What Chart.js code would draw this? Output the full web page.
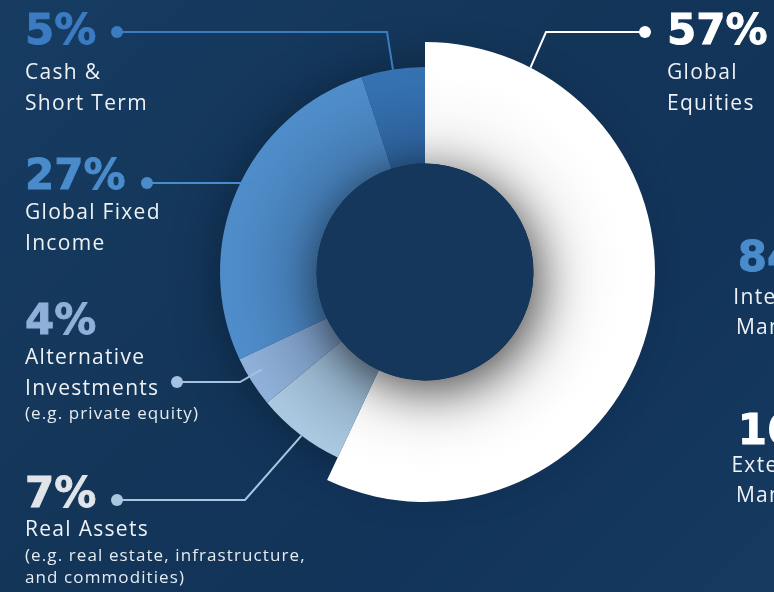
<!DOCTYPE html>
<html>
<head>
<meta charset="utf-8">
<script src="https://cdn.jsdelivr.net/npm/chart.js@4/dist/chart.umd.min.js"></script>
<style>
  html, body { margin: 0; padding: 0; overflow: hidden; }
  body { background: #14375a; }
  .wrap {
    position: relative; width: 774px; height: 592px; overflow: hidden;
    background: linear-gradient(135deg, #173c62 0%, #133558 45%, #12345a 70%, #163a60 100%);
  }
  .wrap canvas { position: absolute; left: 0; top: 0; }
  .txt { position: absolute; white-space: nowrap; }
</style>
</head>
<body>
<div class="wrap" id="wrap">
  <canvas class="grafico" width="774" height="592"></canvas>
</div>
<script>
const canvas = document.querySelector('.grafico');
const wrap = document.getElementById('wrap');

// data, clockwise from 12 o'clock
const categories = ['Global Equities', 'Real Assets', 'Alternative Investments', 'Global Fixed Income', 'Cash & Short Term'];
const values = [57, 7, 4, 27, 5];
const labelLines = [['Global', 'Equities'], ['Real Assets'], ['Alternative', 'Investments'], ['Global Fixed', 'Income'], ['Cash &', 'Short Term']];
const noteLines = [[], ['(e.g. real estate, infrastructure,', 'and commodities)'], ['(e.g. private equity)'], [], []];
const managedValues = [84, 16];
const managedLabels = [['Internally', 'Managed'], ['Externally', 'Managed']];

// colours
const outerColors = ['#ffffff', '#aac8e0', '#8fb0d8', '#4f8dca', '#3672b2'];
const innerColors = ['#f2f2f2', '#8aa6bf', '#7391b8', '#4379b0', '#2c5f98'];
const pctColors = ['#ffffff', '#e1e4e8', '#8fb0d8', '#4a8ccb', '#3b7bc2'];
const lineColors = ['#ffffff', '#a9c8e0', '#a6c1e0', '#4a8ccb', '#3b7bc2'];

// label layout: percent position, first text baseline, leader dot + elbow, where the leader hits the slice
const labelPos = [
  { x: 667, pct: 45, text: 80, dot: [645, 32], elbowX: 546, frac: 0.133, dr: 0 },
  { x: 25, pct: 508, text: 537, dot: [117, 500], elbowX: 245, frac: 0.47, dr: 0 },
  { x: 25, pct: 335, text: 365, dot: [177, 382], elbowX: 240, frac: 0.61, dr: -15 },
  { x: 25, pct: 190, text: 220, dot: [147, 183], elbowX: null, frac: 0.543, dr: -13 },
  { x: 25, pct: 45, text: 80, dot: [117, 32], elbowX: 387, frac: 0.5, dr: 0 }
];

const PCT_FONT = { family: '"DejaVu Sans", sans-serif', size: 42, weight: 700, base: 0.846, spacing: 0, stroke: 0.9 };
const LABEL_FONT = { family: '"Open Sans", sans-serif', size: 21, weight: 400, base: 0.888, spacing: 1.3, stroke: 0 };
const NOTE_FONT = { family: '"Open Sans", sans-serif', size: 17, weight: 400, base: 0.888, spacing: 1.1, stroke: 0 };

const addText = (str, x, baseline, font, color, center) => {
  const d = document.createElement('div');
  d.className = 'txt';
  d.textContent = str;
  d.style.fontFamily = font.family;
  d.style.fontSize = font.size + 'px';
  d.style.lineHeight = font.size + 'px';
  d.style.fontWeight = font.weight;
  d.style.letterSpacing = font.spacing + 'px';
  d.style.color = color;
  if (font.stroke) d.style.webkitTextStroke = font.stroke + 'px ' + color;
  d.style.top = (baseline - font.base * font.size) + 'px';
  d.style.left = x + 'px';
  if (center) d.style.transform = 'translateX(-50%)';
  wrap.appendChild(d);
}

categories.forEach((cat, i) => {
  const p = labelPos[i];
  addText(values[i] + '%', p.x, p.pct, PCT_FONT, pctColors[i], false);
  labelLines[i].forEach((line, j) => addText(line, p.x, p.text + j * 30.5, LABEL_FONT, '#eef2f6', false));
  const noteStart = p.text + (labelLines[i].length - 1) * 30.5 + 24;
  noteLines[i].forEach((line, j) => addText(line, p.x, noteStart + j * 22.5, NOTE_FONT, '#e6ebf1', false));
});

const managedPos = [{ pct: 272, text: 305, color: '#4a8ccb' }, { pct: 445, text: 473, color: '#ffffff' }];
managedValues.forEach((v, i) => {
  addText(v + '%', 788, managedPos[i].pct, PCT_FONT, managedPos[i].color, true);
  managedLabels[i].forEach((line, j) => addText(line, 786, managedPos[i].text + j * 30, LABEL_FONT, '#eef2f6', true));
});

const center = (chart) => {
  const a = chart.chartArea;
  return [(a.left + a.right) / 2, (a.top + a.bottom) / 2];
}

const sliceFill = (context) => {
  const chart = context.chart;
  const i = context.dataIndex;
  if (!chart.chartArea) return outerColors[i];
  const [cx, cy] = center(chart);
  const g = chart.ctx.createRadialGradient(cx, cy, 108, cx, cy, 230);
  g.addColorStop(0, innerColors[i]);
  g.addColorStop(0.75, outerColors[i]);
  g.addColorStop(1, outerColors[i]);
  return g;
}

const ringPlugin = {
  id: 'ring',
  afterDatasetsUpdate(chart) {
    // equities slice sticks out further than the rest
    const arc = chart.getDatasetMeta(0).data[0];
    arc.outerRadius = 230;
  },
  beforeDatasetsDraw(chart) {
    const ctx = chart.ctx;
    const [cx, cy] = center(chart);
    ctx.save();
    ctx.shadowColor = 'rgba(5, 18, 35, 0.55)';
    ctx.shadowBlur = 45;
    ctx.fillStyle = '#15385c';
    ctx.beginPath();
    ctx.arc(cx, cy, 204, 0, Math.PI * 2);
    ctx.fill();
    ctx.restore();
  },
  afterDatasetsDraw(chart) {
    const ctx = chart.ctx;
    const [cx, cy] = center(chart);
    const meta = chart.getDatasetMeta(0);
    const inner = meta.data[0].innerRadius;
    ctx.save();
    ctx.shadowColor = 'rgba(0, 0, 0, 0.7)';
    ctx.shadowBlur = 50;
    ctx.shadowOffsetX = 6;
    ctx.shadowOffsetY = 10;
    ctx.fillStyle = '#15375b';
    ctx.beginPath();
    ctx.arc(cx, cy, inner, 0, Math.PI * 2);
    ctx.fill();
    ctx.restore();

    // leader lines
    meta.data.forEach((arc, i) => {
      const p = labelPos[i];
      const a = arc.startAngle + p.frac * (arc.endAngle - arc.startAngle);
      const r = arc.outerRadius + p.dr;
      const ex = cx + r * Math.cos(a);
      const ey = cy + r * Math.sin(a);
      ctx.save();
      ctx.strokeStyle = lineColors[i];
      ctx.fillStyle = lineColors[i];
      ctx.lineWidth = 2;
      ctx.beginPath();
      ctx.moveTo(p.dot[0], p.dot[1]);
      if (p.elbowX !== null) ctx.lineTo(p.elbowX, p.dot[1]);
      ctx.lineTo(ex, ey);
      ctx.stroke();
      ctx.beginPath();
      ctx.arc(p.dot[0], p.dot[1], 6, 0, Math.PI * 2);
      ctx.fill();
      ctx.restore();
    });
  }
};

const myChart = new Chart(canvas, {
  type: 'doughnut',
  data: {
    labels: categories,
    datasets: [{
      data: values,
      backgroundColor: sliceFill,
      borderWidth: 0,
      radius: 205,
      cutout: '52.9%'
    }]
  },
  options: {
    responsive: false,
    animation: false,
    events: [],
    layout: { padding: { left: 76, right: 0, top: 0, bottom: 48 } },
    plugins: { legend: { display: false }, tooltip: { enabled: false } }
  },
  plugins: [ringPlugin]
});
</script>
</body>
</html>
